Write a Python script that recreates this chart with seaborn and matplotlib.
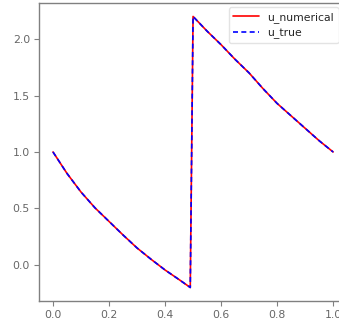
import numpy as np
import pandas as pd
import seaborn as sns
import matplotlib
matplotlib.use("Agg")
import matplotlib.pyplot as plt

# Solution values on the grid, with a jump at x = 0.5
x = [0.00, 0.05, 0.10, 0.15, 0.20, 0.25, 0.30, 0.35, 0.40, 0.45, 0.49,
     0.50, 0.55, 0.60, 0.65, 0.70, 0.75, 0.80, 0.85, 0.90, 0.95, 1.00]
u_numerical = [1.00, 0.81, 0.645, 0.505, 0.385, 0.265, 0.15, 0.05, -0.045, -0.13, -0.20,
               2.20, 2.07, 1.95, 1.82, 1.70, 1.56, 1.43, 1.32, 1.21, 1.10, 1.00]
u_true = [1.00, 0.81, 0.645, 0.505, 0.385, 0.265, 0.15, 0.05, -0.045, -0.13, -0.20,
          2.20, 2.07, 1.95, 1.82, 1.70, 1.56, 1.43, 1.32, 1.21, 1.10, 1.00]

sns.set_style("ticks")
plt.rcParams["font.family"] = ["DejaVu Sans"]

fig = plt.figure(figsize=(3.39, 3.23), dpi=100)
ax = fig.add_axes([0.115, 0.068, 0.909, 0.923])

df = pd.DataFrame({"x": x, "u_numerical": u_numerical, "u_true": u_true})
sns.lineplot(data=df, x="x", y="u_numerical", ax=ax, color="red", lw=1.2,
             label="u_numerical", sort=False)
sns.lineplot(data=df, x="x", y="u_true", ax=ax, color="blue", lw=1.2,
             linestyle=(0, (3, 2)), label="u_true", sort=False)

ax.set_xlabel("")
ax.set_ylabel("")
ax.set_xticks([0.0, 0.2, 0.4, 0.6, 0.8, 1.0])
ax.set_yticks([0.0, 0.5, 1.0, 1.5, 2.0])
for s in ax.spines.values():
    s.set_color("#808080")
    s.set_linewidth(1.0)
ax.tick_params(labelsize=7.8, colors="#808080", labelcolor="#666666",
               length=3.5, width=0.8, pad=3)

leg = ax.legend(loc="upper right", bbox_to_anchor=(0.972, 0.985),
                fontsize=7.8, handlelength=2.4, frameon=True, borderaxespad=0)
leg.get_frame().set_edgecolor("#dddddd")

fig.savefig("out.png", dpi=100)
